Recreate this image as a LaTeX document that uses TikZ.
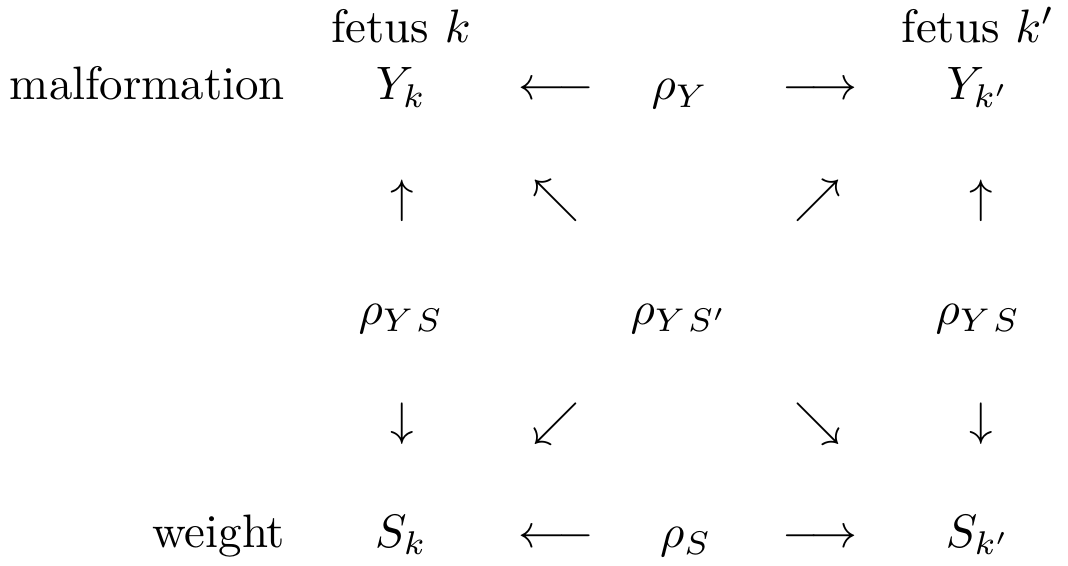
\documentclass[tikz,border=0pt]{standalone}
\usepackage{tikz}
\usetikzlibrary{positioning}
\usepackage{amsmath}
\usepackage{amssymb}

\tikzset{
    cell/.style={inner sep=0pt, anchor=base},
    rowlbl/.style={inner sep=0pt, anchor=base east}
}

\begin{document}
\begin{tikzpicture}
    \useasboundingbox (0,0) rectangle (8.003,-4.241);

    % row labels
    \node[rowlbl] (malf) at (2.143,-0.749) {malformation};
    \node[rowlbl] (weight) at (2.143,-4.106) {weight};

    % fetus headings
    \node[cell] (fetk) at (3.005,-0.322) {fetus $k$};
    \node[cell] (fetkp) at (7.329,-0.322) {fetus $k'$};

    % top row
    \node[cell] (Yk) at (3.005,-0.749) {$Y_k$};
    \node[cell] (arrYl) at (4.166,-0.749) {$\longleftarrow$};
    \node[cell] (rhoY) at (5.096,-0.749) {$\rho_Y$};
    \node[cell] (arrYr) at (6.145,-0.749) {$\longrightarrow$};
    \node[cell] (Ykp) at (7.329,-0.749) {$Y_{k'}$};

    % arrows up
    \node[cell] (upk) at (3.013,-1.589) {$\uparrow$};
    \node[cell] (nw) at (4.166,-1.589) {$\nwarrow$};
    \node[cell] (ne) at (6.130,-1.589) {$\nearrow$};
    \node[cell] (upkp) at (7.350,-1.589) {$\uparrow$};

    % correlations
    \node[cell] (rhoYS) at (3.005,-2.428) {$\rho_{Y\mkern1.5mu S}$};
    \node[cell] (rhoYSp) at (5.090,-2.428) {$\rho_{Y\mkern1.5mu S'}$};
    \node[cell] (rhoYSr) at (7.329,-2.428) {$\rho_{Y\mkern1.5mu S}$};

    % arrows down
    \node[cell] (dnk) at (3.013,-3.267) {$\downarrow$};
    \node[cell] (sw) at (4.166,-3.267) {$\swarrow$};
    \node[cell] (se) at (6.130,-3.267) {$\searrow$};
    \node[cell] (dnkp) at (7.350,-3.267) {$\downarrow$};

    % bottom row
    \node[cell] (Sk) at (3.005,-4.106) {$S_k$};
    \node[cell] (arrSl) at (4.166,-4.106) {$\longleftarrow$};
    \node[cell] (rhoS) at (5.140,-4.106) {$\rho_S$};
    \node[cell] (arrSr) at (6.145,-4.106) {$\longrightarrow$};
    \node[cell] (Skp) at (7.329,-4.106) {$S_{k'}$};

\end{tikzpicture}
\end{document}
